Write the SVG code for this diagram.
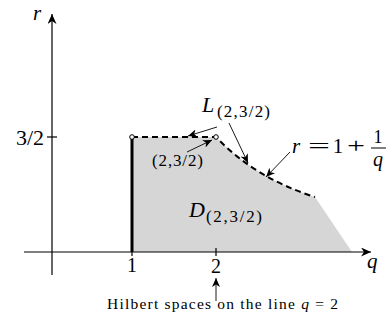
<svg xmlns="http://www.w3.org/2000/svg" width="386" height="327" viewBox="0 0 386 327">
<style>
.ax{stroke:#000;stroke-width:1.2;fill:none}
.lbl{stroke:#000;stroke-width:0.9;fill:none}
text{font-family:'Liberation Serif','DejaVu Serif',serif;fill:#000}
.it{font-style:italic}
.dash{stroke:#000;stroke-width:2;fill:none;stroke-dasharray:6 4}
</style>
<defs>
<marker id="ah" markerUnits="userSpaceOnUse" markerWidth="12" markerHeight="10" refX="9" refY="4" orient="auto">
<path d="M0,0 L9,4 L0,8 L2.5,4 Z" fill="#000"/>
</marker>
<marker id="axh" markerUnits="userSpaceOnUse" markerWidth="12" markerHeight="10" refX="10" refY="4.5" orient="auto">
<path d="M0,0 L10,4.5 L0,9 L3,4.5 Z" fill="#000"/>
</marker>
</defs>
<g id="region">
<path d="M132,137 L216,137 Q255,178 315,197 L352,252 L132,252 Z" fill="#d6d6d6"/>
</g>
<g id="axes">
<line class="ax" x1="52" y1="275" x2="52" y2="14" marker-end="url(#axh)"/>
<line class="ax" x1="24" y1="252" x2="371" y2="252" marker-end="url(#axh)"/>
<line class="ax" x1="47" y1="137" x2="57" y2="137"/>
<line class="ax" x1="132" y1="248" x2="132" y2="256"/>
<line class="ax" x1="216" y1="248" x2="216" y2="256"/>
<text class="it" x="33" y="20" font-size="21">r</text>
<text class="it" x="367" y="268" font-size="21">q</text>
<text x="44" y="145" font-size="22" text-anchor="end">3/2</text>
<text x="132" y="272" font-size="20" text-anchor="middle">1</text>
<text x="216" y="273" font-size="20" text-anchor="middle">2</text>
</g>
<g id="boundary">
<line x1="132" y1="137" x2="132" y2="252" stroke="#000" stroke-width="3"/>
<path class="dash" d="M132,137 L216,137 Q255,178 315,197"/>
<circle cx="132" cy="137" r="2.3" fill="#fff" stroke="#000" stroke-width="1"/>
<circle cx="216" cy="137" r="2.3" fill="#fff" stroke="#000" stroke-width="1"/>
</g>
<g id="connectors">
<line class="lbl" x1="187" y1="152" x2="212" y2="140" marker-end="url(#ah)"/>
<line class="lbl" x1="217" y1="127" x2="188" y2="136" marker-end="url(#ah)"/>
<line class="lbl" x1="229" y1="123" x2="248" y2="163" marker-end="url(#ah)"/>
<line class="lbl" x1="290" y1="152" x2="266" y2="177" marker-end="url(#ah)"/>
<line class="lbl" x1="216" y1="301" x2="216" y2="278" marker-end="url(#ah)"/>
</g>
<g id="label-point">
<text x="152" y="166" font-size="17" textLength="51" lengthAdjust="spacing">(2,3/2)</text>
</g>
<g id="label-L">
<text class="it" x="202" y="112" font-size="22">L</text>
<text x="217" y="117" font-size="17" textLength="53" lengthAdjust="spacing">(2,3/2)</text>
</g>
<g id="label-D">
<text class="it" x="189" y="217" font-size="22">D</text>
<text x="206" y="222" font-size="17" textLength="56" lengthAdjust="spacing">(2,3/2)</text>
</g>
<g id="label-curve">
<text class="it" x="292" y="153" font-size="21">r</text>
<text x="308" y="153" font-size="21" textLength="22" lengthAdjust="spacingAndGlyphs">=</text>
<text x="338" y="153" font-size="21" text-anchor="middle">1</text>
<text x="347" y="153" font-size="21" textLength="18" lengthAdjust="spacingAndGlyphs">+</text>
<text x="378" y="143" font-size="18" text-anchor="middle">1</text>
<line x1="371" y1="148" x2="386" y2="148" stroke="#000" stroke-width="1"/>
<text class="it" x="378" y="166" font-size="20" text-anchor="middle">q</text>
</g>
<g id="label-hilbert">
<text x="107" y="309" font-size="15.5" textLength="231" lengthAdjust="spacing">Hilbert spaces on the line <tspan class="it">q</tspan> = 2</text>
</g>
</svg>
